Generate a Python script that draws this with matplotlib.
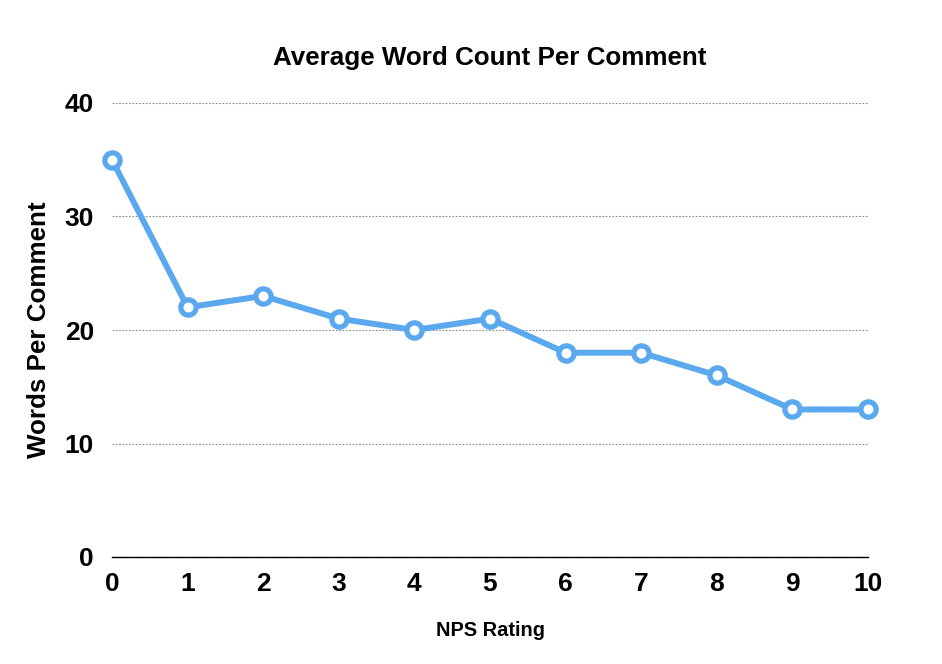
import matplotlib
matplotlib.use("Agg")
import matplotlib.pyplot as plt

nps_rating = [0, 1, 2, 3, 4, 5, 6, 7, 8, 9, 10]
words_per_comment = [35, 22, 23, 21, 20, 21, 18, 18, 16, 13, 13]
y_ticks = [0, 10, 20, 30, 40]

LINE_COLOR = "#5aa8ee"

plt.rcParams["font.family"] = ["Liberation Sans", "DejaVu Sans"]
plt.rcParams["font.weight"] = "bold"

fig = plt.figure(figsize=(9.42, 6.64), dpi=100)
ax = fig.add_axes([112 / 942, 1 - 557 / 664, (868 - 112) / 942, (557 - 103) / 664])

ax.plot(nps_rating, words_per_comment, color=LINE_COLOR, lw=4.3,
        marker="o", ms=11, mfc="white", mec=LINE_COLOR, mew=3.8,
        clip_on=False, zorder=3)

ax.set_xlim(0, 10)
ax.set_ylim(0, 40)
ax.set_xticks(nps_rating)
ax.set_yticks(y_ticks)
ax.tick_params(axis="both", length=0, labelsize=19)
ax.tick_params(axis="x", pad=11)
ax.tick_params(axis="y", pad=13)
for lbl in ax.get_xticklabels() + ax.get_yticklabels():
    lbl.set_fontweight("bold")

ax.yaxis.grid(True, linestyle=(0, (1.5, 1.5)), color="#888888", lw=0.8)
for s in ["top", "right", "left"]:
    ax.spines[s].set_visible(False)
ax.spines["bottom"].set_color("black")
ax.spines["bottom"].set_linewidth(1.0)
ax.spines["bottom"].set_zorder(2)

ax.set_title("Average Word Count Per Comment", fontsize=18.7, fontweight="bold", pad=27)
ax.set_ylabel("Words Per Comment", fontsize=18.7, fontweight="bold", labelpad=10)
ax.set_xlabel("NPS Rating", fontsize=14.4, fontweight="bold", labelpad=18)

fig.savefig("out.png", dpi=100)
